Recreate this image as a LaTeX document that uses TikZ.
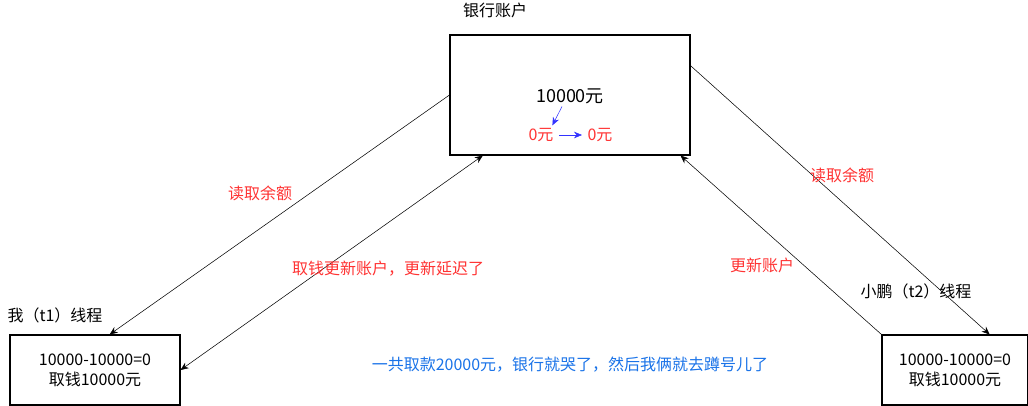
\documentclass[tikz,border=0pt]{standalone}
\usepackage{fontspec}
\setmainfont{Noto Sans CJK SC}
\usetikzlibrary{arrows.meta}
\definecolor{lblred}{HTML}{FF3333}
\definecolor{noteblue}{HTML}{1A73E8}
\definecolor{flowblue}{HTML}{3333FF}
\tikzset{
  acct/.style={draw, line width=0.8pt, fill=white, inner sep=0pt},
  lbl/.style={text=lblred, inner sep=0pt},
  txt/.style={inner sep=0pt, align=center},
}
\begin{document}
\begin{tikzpicture}[x=0.75pt, y=-0.75pt, font=\fontsize{12}{15}\selectfont, >={Stealth[length=6pt,width=5pt]}]
    \useasboundingbox (0,0) rectangle (1028,406);
    % boxes
    \node[acct, minimum width=180pt, minimum height=90pt] (bank) at (570,95) {};
    \node[acct, minimum width=127.5pt, minimum height=52.5pt] (t1) at (95,370) {};
    \node[acct, minimum width=109.5pt, minimum height=52.5pt] (t2) at (955,370) {};
    \node[txt] (banktitle) at (495,10) {银行账户};
    \node[txt] (t1name) at (55,315) {我（t1）线程};
    \node[txt] (t2name) at (916,291) {小鹏（t2）线程};
    % box contents
    \node[txt, font=\fontsize{13.5}{16}\selectfont] (sum) at (570,96) {10000元};
    \node[txt, text=lblred] (zeroa) at (541,135) {0元};
    \node[txt, text=lblred] (zerob) at (600,135) {0元};
    \node[txt] (t1calc) at (95,370) {10000-10000=0\\取钱10000元};
    \node[txt] (t2calc) at (955,370) {10000-10000=0\\取钱10000元};
    \draw[->, flowblue] ([xshift=-6pt,yshift=-2pt]sum.south) -- ([xshift=-1pt,yshift=2pt]zeroa.north east);
    \draw[->, flowblue] ([xshift=4pt]zeroa.east) -- ([xshift=-4pt]zerob.west);
    % threads
    \draw[->] (bank.west) -- ([xshift=11pt]t1.north);
    \draw[<->] (t1.east) -- ([xshift=25pt]bank.south west);
    \draw[->] ([yshift=22pt]bank.east) -- ([xshift=26pt]t2.north);
    \draw[->] (t2.north west) -- ([xshift=-7.5pt]bank.south east);
    % labels
    \node[lbl] (reada) at (260,193) {读取余额};
    \node[lbl] (updatea) at (388,269) {取钱更新账户，更新延迟了};
    \node[lbl] (readb) at (842,175) {读取余额};
    \node[lbl] (updateb) at (762,265) {更新账户};
    \node[txt, text=noteblue] (note) at (570,365) {一共取款20000元，银行就哭了，然后我俩就去蹲号儿了};
\end{tikzpicture}
\end{document}
